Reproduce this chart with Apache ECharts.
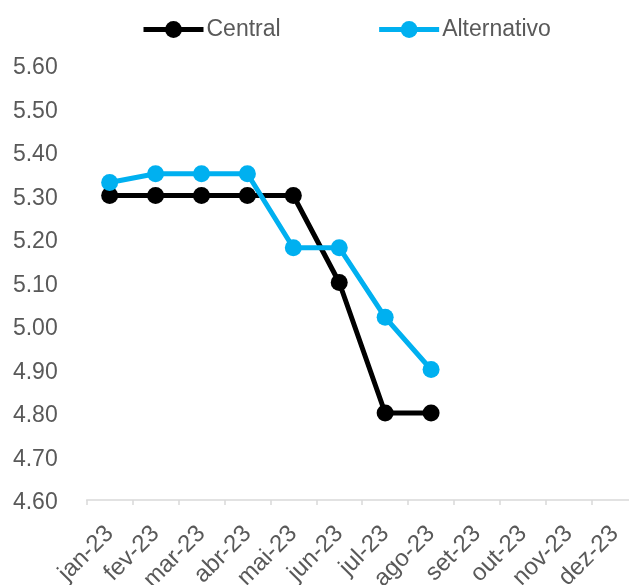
<!DOCTYPE html>
<html>
<head>
<meta charset="utf-8">
<script src="https://cdn.jsdelivr.net/npm/echarts@6/dist/echarts.min.js"></script>
<style>
html,body{margin:0;padding:0;background:#fff;}
#c{width:629px;height:585px;}
</style>
</head>
<body>
<div id="c"></div>
<script>
const categories = ['jan-23','fev-23','mar-23','abr-23','mai-23','jun-23','jul-23','ago-23','set-23','out-23','nov-23','dez-23'];
const central = [5.30, 5.30, 5.30, 5.30, 5.30, 5.10, 4.80, 4.80, null, null, null, null];
const alternativo = [5.33, 5.35, 5.35, 5.35, 5.18, 5.18, 5.02, 4.90, null, null, null, null];
const yTicks = { min: 4.6, max: 5.6, interval: 0.1 };

const font = '"Liberation Sans", Arial, sans-serif';
const chart = echarts.init(document.getElementById('c'));
chart.setOption({
  animation: false,
  backgroundColor: '#fff',
  legend: {
    left: 136, top: 13,
    itemWidth: 60, itemHeight: 21, itemGap: 96,
    lineStyle: { width: 5 },
    textStyle: { fontSize: 23, color: '#595959', fontFamily: font, padding: [0,0,0,-2] },
    data: ['Central', 'Alternativo']
  },
  grid: { left: 86.7, top: 65, width: 551, bottom: 85, containLabel: false, outerBoundsMode: 'none' },
  xAxis: {
    type: 'category',
    data: categories,
    boundaryGap: true,
    axisLine: { lineStyle: { color: '#d9d9d9', width: 1.5 } },
    axisTick: { show: true, length: 5, lineStyle: { color: '#d9d9d9', width: 1.5 } },
    axisLabel: { rotate: 45, fontSize: 24, color: '#595959', fontFamily: font, margin: 30, interval: 0 },
    splitLine: { show: false }
  },
  yAxis: {
    type: 'value',
    min: yTicks.min, max: yTicks.max, interval: yTicks.interval,
    axisLine: { show: false },
    axisTick: { show: false },
    splitLine: { show: false },
    axisLabel: { fontSize: 23, color: '#595959', fontFamily: font, margin: 29,
      formatter: v => '{t|' + v.toFixed(2) + '}',
      rich: { t: { fontSize: 23, color: '#595959', fontFamily: font, padding: [6, 0, 0, 0] } } }
  },
  series: [
    { name: 'Central', type: 'line', data: central, color: '#000000',
      symbol: 'circle', symbolSize: 17, lineStyle: { width: 5, color: '#000000' },
      itemStyle: { color: '#000000' } },
    { name: 'Alternativo', type: 'line', data: alternativo, color: '#00B0F0',
      symbol: 'circle', symbolSize: 17, lineStyle: { width: 5, color: '#00B0F0' },
      itemStyle: { color: '#00B0F0' } }
  ]
});
</script>
</body>
</html>
